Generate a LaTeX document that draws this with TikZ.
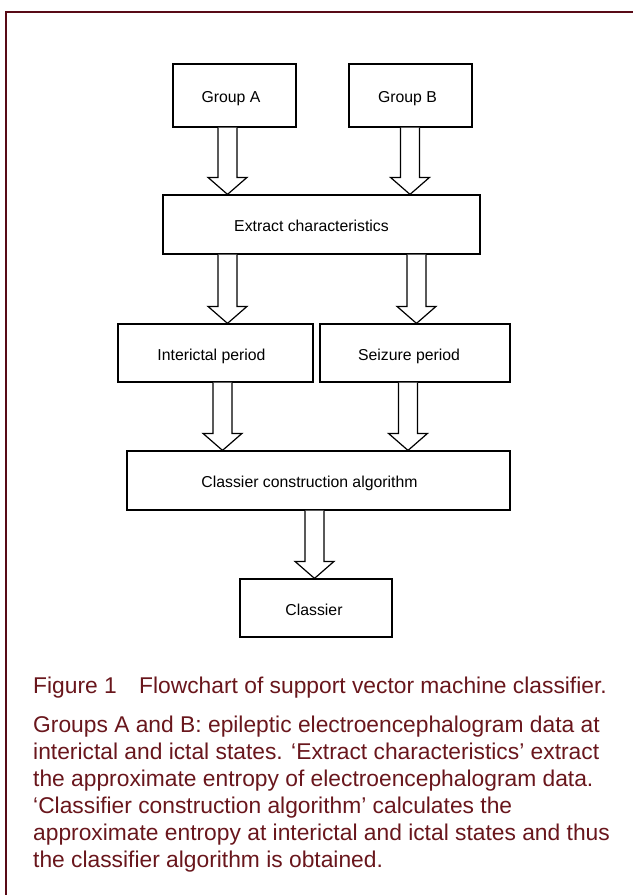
\documentclass[tikz,border=0pt]{standalone}
\usepackage{fontspec}
\setmainfont{Liberation Sans}
\usetikzlibrary{calc}
\definecolor{framecol}{RGB}{88,10,22}
\definecolor{capcol}{RGB}{105,22,28}
\tikzset{
  box/.style={draw, line width=1.2pt, inner sep=0pt, text=black,
    text height=14.5pt, text depth=0pt,
    font=\fontsize{15.8}{19}\selectfont},
  barrow/.style={draw, fill=white, line width=1.2pt, line join=miter},
  captext/.style={anchor=base west, inner sep=0pt, text=capcol,
    font=\fontsize{22.8}{27}\selectfont},
}
\newcommand\blockarrow[3]{%
  \draw[barrow] let \p1=(#2.south), \p2=(#3.north), \p3=(#1) in
    (\x3-9.5pt,\y1) -- (\x3-9.5pt,\y2+17pt) -- (\x3-19.5pt,\y2+17pt) --
    (\x3,\y2) -- (\x3+19.5pt,\y2+17pt) -- (\x3+9.5pt,\y2+17pt) -- (\x3+9.5pt,\y1);
}
\begin{document}
\begin{tikzpicture}[x=1pt,y=-1pt]
\useasboundingbox (0,0) rectangle (633,895);
% frame
\draw[framecol, line width=2pt] (6,895) -- (6,12) -- (633,12);
% boxes
\node[box, minimum width=123pt, minimum height=63pt] (A) at (234.5,95.5) {Group A\hspace*{7pt}};
\node[box, minimum width=123pt, minimum height=63pt] (B) at (410.5,95.5) {Group B\hspace*{6pt}};
\node[box, minimum width=317pt, minimum height=59pt] (E) at (321.5,224.5) {Extract characteristics\hspace*{20pt}};
\node[box, minimum width=195pt, minimum height=58pt] (I) at (215.5,353) {Interictal period\hspace*{8pt}};
\node[box, minimum width=190pt, minimum height=58pt] (S) at (415,353) {Seizure period\hspace*{12pt}};
\node[box, minimum width=383pt, minimum height=59pt] (C) at (318.5,480.5) {Classier construction algorithm\hspace*{18pt}};
\node[box, minimum width=152pt, minimum height=58pt] (K) at (316,608) {Classier\hspace*{4pt}};
% arrow positions
\coordinate (xa) at (227.5,0);
\coordinate (xb) at (410,0);
\coordinate (xc) at (227.5,0);
\coordinate (xd) at (416.5,0);
\coordinate (xe) at (222.5,0);
\coordinate (xf) at (408,0);
\coordinate (xg) at (314.5,0);
\blockarrow{xa}{A}{E}
\blockarrow{xb}{B}{E}
\blockarrow{xc}{E}{I}
\blockarrow{xd}{E}{S}
\blockarrow{xe}{I}{C}
\blockarrow{xf}{S}{C}
\blockarrow{xg}{C}{K}
% caption
\node[captext] (fig) at (33,693) {Figure 1};
\node[captext] (title) at (139,693) {Flowchart of support vector machine classifier.};
\node[captext] (l1) at (33,732) {Groups A and B: epileptic electroencephalogram data at};
\node[captext] (l2) at (33,759) {interictal and ictal states. ‘Extract characteristics’ extract};
\node[captext] (l3) at (33,786) {the approximate entropy of electroencephalogram data.};
\node[captext] (l4) at (33,813) {‘Classifier construction algorithm’ calculates the};
\node[captext] (l5) at (33,840) {approximate entropy at interictal and ictal states and thus};
\node[captext] (l6) at (33,867) {the classifier algorithm is obtained.};
\end{tikzpicture}
\end{document}
